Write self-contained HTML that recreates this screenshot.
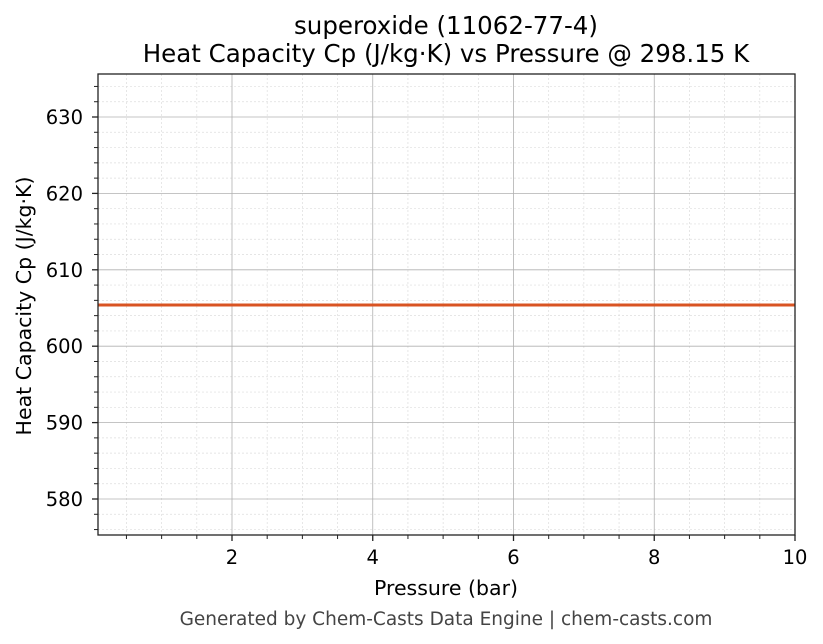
<!DOCTYPE html>
<html><head><style>body{margin:0;background:#fff}svg{display:block}text{font-family:"DejaVu Sans","Liberation Sans",sans-serif}</style></head><body>
<svg width="823" height="644" xmlns="http://www.w3.org/2000/svg">
<rect width="823" height="644" fill="#fff"/>
<g id="minor" stroke="#ddd" stroke-width="0.7" stroke-dasharray="2,2">
</g>
<g id="major" stroke="#b0b0b0" stroke-width="0.8"></g>
<line x1="98" y1="305" x2="795" y2="305" stroke="#d95423" stroke-width="3"/>
<rect x="98" y="74" width="697" height="461" fill="none" stroke="#222" stroke-width="1.3"/>
<g id="ticks" stroke="#222"></g>
<g id="labels" font-size="19.5" fill="#000"></g>
<text x="446" y="34" font-size="24.5" text-anchor="middle">superoxide (11062-77-4)</text>
<text x="446" y="62" font-size="24.5" text-anchor="middle">Heat Capacity Cp (J/kg·K) vs Pressure @ 298.15 K</text>
<text x="446" y="595" font-size="20.5" text-anchor="middle">Pressure (bar)</text>
<text transform="translate(31,306) rotate(-90)" font-size="20.5" text-anchor="middle">Heat Capacity Cp (J/kg·K)</text>
<text x="446" y="625" font-size="18.5" fill="#444" text-anchor="middle">Generated by Chem-Casts Data Engine | chem-casts.com</text>
<script>
var ns="http://www.w3.org/2000/svg";
function el(p,t,a,txt){var e=document.createElementNS(ns,t);for(var k in a)e.setAttribute(k,a[k]);if(txt)e.textContent=txt;document.getElementById(p).appendChild(e);}
function X(v){return 91.25+v*70.375}
function Y(v){return 499-(v-580)*7.64}
for(var v=0.5;v<=10.01;v+=0.5){var x=X(v);if(x<98)continue;
 if(Math.abs(v%2)<0.01){el("major","line",{x1:x,x2:x,y1:74,y2:535});el("ticks","line",{x1:x,x2:x,y1:535,y2:541,"stroke-width":1.3});el("labels","text",{x:x,y:564,"text-anchor":"middle"},String(v));}
 else{el("minor","line",{x1:x,x2:x,y1:74,y2:535});el("ticks","line",{x1:x,x2:x,y1:535,y2:539,"stroke-width":1});}}
for(var v=576;v<=635;v+=2){var y=Y(v);
 if(v%10==0){el("major","line",{x1:98,x2:795,y1:y,y2:y});el("ticks","line",{x1:92,x2:98,y1:y,y2:y,"stroke-width":1.3});el("labels","text",{x:83,y:y+7,"text-anchor":"end"},String(v));}
 else{el("minor","line",{x1:98,x2:795,y1:y,y2:y});el("ticks","line",{x1:94,x2:98,y1:y,y2:y,"stroke-width":1});}}
</script>
</svg>
</body></html>
